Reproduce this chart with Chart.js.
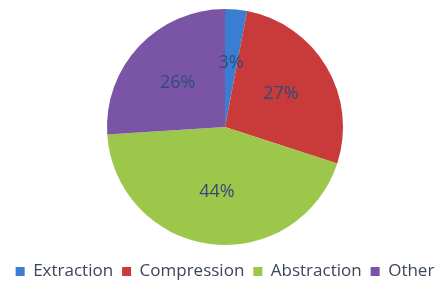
<!DOCTYPE html>
<html>
<head>
<meta charset="utf-8">
<script src="https://cdn.jsdelivr.net/npm/chart.js@4/dist/chart.umd.min.js"></script>
<style>
  html, body { margin: 0; padding: 0; background: #fff; }
  #wrap { width: 446px; height: 284px; position: relative; }
</style>
</head>
<body>
<div id="wrap"><canvas id="pie-chart" width="446" height="284"></canvas></div>
<script>
const categories = ['Extraction', 'Compression', 'Abstraction', 'Other'];
const shares = [3, 27, 44, 26];
const sliceColors = ['#3b7dd1', '#c93a3a', '#9cc74a', '#7a55a6'];

// draws the percentage inside each slice, a bit past half radius
const sliceLabels = {
    id: 'sliceLabels',
    afterDatasetsDraw(chart) {
        const ctx = chart.ctx;
        const meta = chart.getDatasetMeta(0);
        ctx.save();
        ctx.font = '18px "Open Sans", sans-serif';
        ctx.fillStyle = '#2f4c78';
        ctx.textAlign = 'center';
        ctx.textBaseline = 'middle';
        meta.data.forEach((arc, i) => {
            const mid = (arc.startAngle + arc.endAngle) / 2;
            const r = arc.outerRadius * 0.55;
            ctx.fillText(shares[i] + '%', arc.x + Math.cos(mid) * r, arc.y + Math.sin(mid) * r);
        });
        ctx.restore();
    }
};

new Chart(document.getElementById('pie-chart'), {
    type: 'pie',
    data: {
        labels: categories,
        datasets: [{
            data: shares,
            backgroundColor: sliceColors,
            borderWidth: 0,
            radius: 118
        }]
    },
    options: {
        responsive: false,
        animation: false,
        layout: { padding: { top: 0, bottom: -6, left: 4, right: 0 } },
        plugins: {
            tooltip: { enabled: false },
            legend: {
                position: 'bottom',
                labels: {
                    boxWidth: 9,
                    boxHeight: 9,
                    padding: 9,
                    color: '#3b4658',
                    font: { family: '"Open Sans", sans-serif', size: 17 }
                }
            }
        }
    },
    plugins: [sliceLabels]
});
</script>
</body>
</html>
